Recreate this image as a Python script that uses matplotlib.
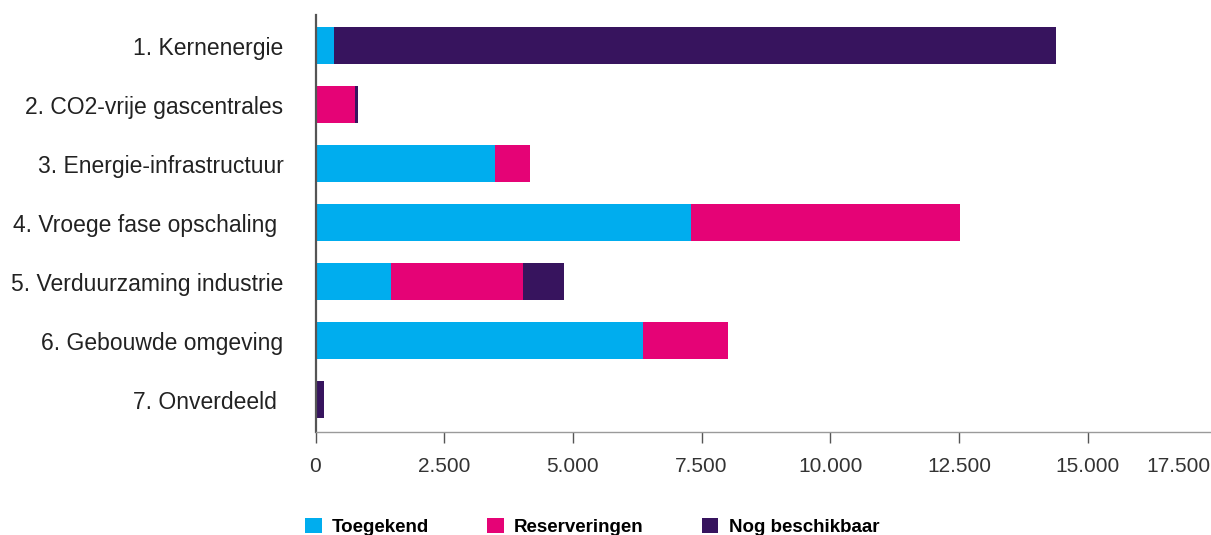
import matplotlib
matplotlib.use("Agg")
import matplotlib.pyplot as plt
from matplotlib.patches import Patch
import matplotlib.transforms as mtransforms
import numpy as np

categories = ["1. Kernenergie", "2. CO2-vrije gascentrales", "3. Energie-infrastructuur",
              "4. Vroege fase opschaling ", "5. Verduurzaming industrie", "6. Gebouwde omgeving",
              "7. Onverdeeld "]
toegekend = [350, 0, 3486, 7292, 1466, 6360, 0]
reserveringen = [0, 767, 680, 5224, 2564, 1651, 0]
nog_beschikbaar = [14030, 58, 0, 0, 796, 0, 165]
series_names = ["Toegekend", "Reserveringen", "Nog beschikbaar"]
xticks = [0, 2500, 5000, 7500, 10000, 12500, 15000, 17500]
xtick_labels = ["0", "2.500", "5.000", "7.500", "10.000", "12.500", "15.000", "17.500"]

colors = ["#00ADEE", "#E50376", "#37145E"]

W, H = 1211, 535
fig = plt.figure(figsize=(W / 100, H / 100), dpi=100)
left = 315.5 / W
right = 1216.4 / W
bottom = 1 - 432 / H
top = 1 - 15 / H
ax = fig.add_axes([left, bottom, right - left, top - bottom])

y = np.arange(len(categories))
t = np.array(toegekend)
r = np.array(reserveringen)
n = np.array(nog_beschikbaar)
h = 0.63
ax.barh(y, t, height=h, color=colors[0], label=series_names[0])
ax.barh(y, r, left=t, height=h, color=colors[1], label=series_names[1])
ax.barh(y, n, left=t + r, height=h, color=colors[2], label=series_names[2])

ax.set_xlim(0, 17500)
ax.set_ylim(6.55, -0.52)
ax.set_yticks(y)
ax.set_yticklabels(categories, fontsize=16.5, color="#222222", family=["Liberation Sans", "DejaVu Sans"])
ax.tick_params(axis="y", length=0, pad=23)

ax.set_xticks(xticks)
ax.set_xticklabels(xtick_labels, fontsize=15, color="#333333",
                   family=["Liberation Sans", "DejaVu Sans"])
ax.tick_params(axis="x", length=8, width=1, color="#555555", pad=10, direction="out")
# shift last tick label so it fits in the figure
lbl = ax.get_xticklabels()[-1]
lbl.set_transform(lbl.get_transform() + mtransforms.ScaledTranslation(-38 / 100, 0, fig.dpi_scale_trans))

for s in ["top", "right"]:
    ax.spines[s].set_visible(False)
ax.spines["left"].set_color("#555555")
ax.spines["left"].set_linewidth(1.6)
ax.spines["bottom"].set_color("#9a9a9a")
ax.spines["bottom"].set_linewidth(1.0)

handles = [Patch(facecolor=c, edgecolor="none") for c in colors]
fig.legend(handles, series_names, loc="upper left", ncol=3,
           bbox_to_anchor=(305 / W, 1 - 518 / H), frameon=False,
           prop={"family": ["Liberation Sans", "DejaVu Sans"], "weight": "bold", "size": 13.5},
           handlelength=0.88, handleheight=0.88, handletextpad=0.55, columnspacing=3.1,
           borderaxespad=0, borderpad=0)

fig.savefig("out.png", dpi=100)
